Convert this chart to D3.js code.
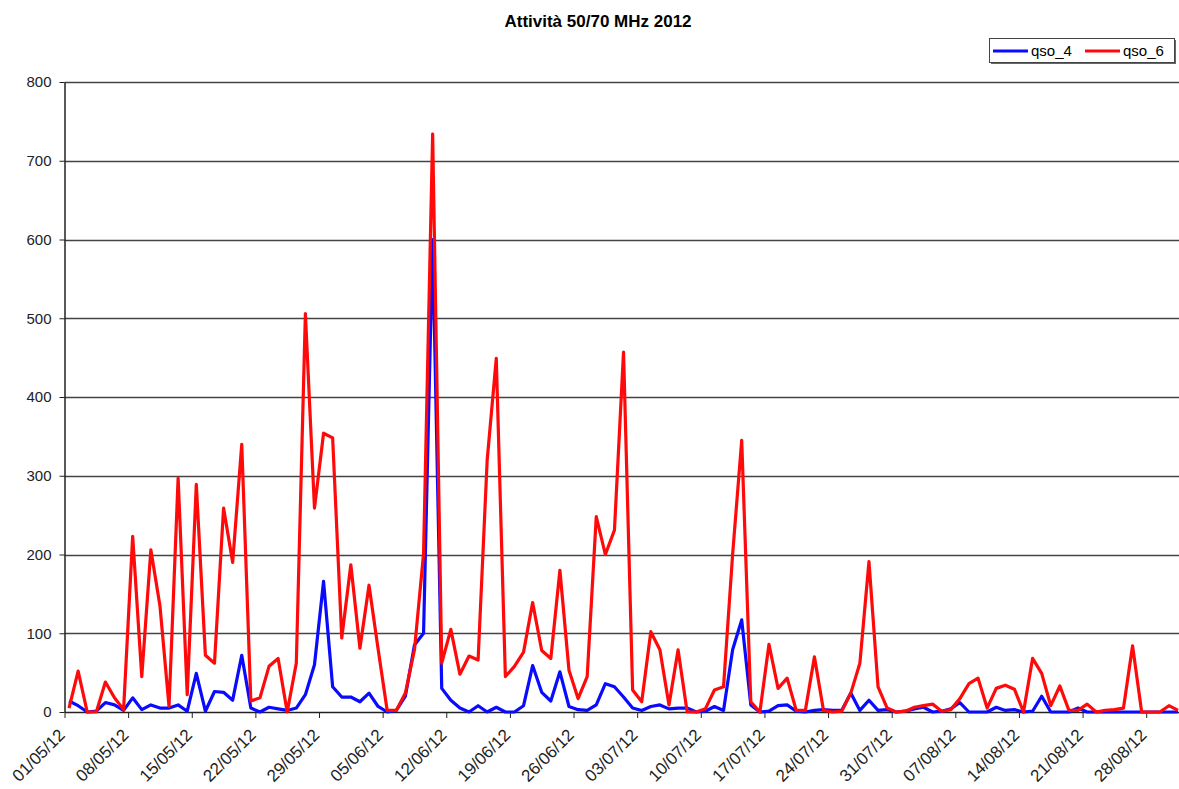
<!DOCTYPE html>
<meta charset="utf-8">
<style>
body { margin: 0; background: #fff; }
text { font-family: "Liberation Sans", Arial, sans-serif; }
</style>
<svg width="1179" height="789"></svg>
<script src="https://cdnjs.cloudflare.com/ajax/libs/d3/7.8.5/d3.min.js"></script>
<script>

var title = "Attività 50/70 MHz 2012";
var firstDay = new Date(2012, 4, 1);
var lastDay = new Date(2012, 8, 1);
var seriesNames = ["qso_4", "qso_6"];
var seriesColors = ["#0a0aff", "#ff0a0a"];
var yTicks = [0, 100, 200, 300, 400, 500, 600, 700, 800];

// one value per day, 01/05/12 .. 31/08/12
var qso4 = [14, 8, 0, 1, 12, 9, 2, 18, 3, 9, 5, 5, 9, 1, 49, 1, 26, 25, 15, 72,
  5, 0, 6, 4, 2, 5, 22, 60, 166, 32, 19, 19, 13, 24, 7, 0, 2, 20, 85, 100,
  600, 30, 15, 5, 0, 8, 0, 6, 0, 0, 8, 59, 25, 14, 51, 7, 3, 2, 9, 36,
  32, 19, 5, 2, 7, 9, 4, 5, 5, 0, 1, 7, 2, 79, 117, 9, 0, 1, 8, 9,
  1, 0, 2, 3, 2, 2, 24, 2, 15, 2, 3, 0, 1, 4, 6, 0, 1, 4, 12, 0,
  0, 0, 6, 2, 3, 0, 1, 20, 0, 0, 0, 5, 0, 0, 0, 0, 0, 0, 0, 0,
  0, 0, 0];
var qso6 = [5, 52, 0, 0, 38, 18, 3, 223, 45, 206, 135, 7, 297, 22, 289, 72, 62, 259, 190, 340,
  14, 18, 58, 68, 0, 62, 506, 259, 354, 348, 94, 187, 81, 161, 80, 2, 2, 24, 79, 201,
  734, 62, 105, 48, 71, 66, 320, 449, 45, 58, 76, 139, 78, 68, 180, 53, 17, 45, 248, 200,
  231, 457, 28, 13, 102, 79, 9, 79, 0, 0, 4, 28, 32, 200, 345, 13, 0, 86, 30, 43,
  2, 2, 70, 2, 0, 1, 24, 62, 191, 32, 5, 0, 1, 6, 8, 10, 1, 3, 17, 36,
  43, 5, 30, 34, 29, 0, 68, 49, 8, 33, 2, 2, 10, 0, 2, 3, 5, 84, 0, 0,
  0, 8, 2];

var days = d3.timeDay.range(firstDay, lastDay);
var series = [qso4, qso6].map(function(values, i) {
  return {
    name: seriesNames[i],
    color: seriesColors[i],
    points: values.map(function(v, j) { return {date: d3.timeHour.offset(days[j], 12), value: v}; })
  };
});

var svg = d3.select("svg");
var plotLeft = 64.5, plotBottom = 712, plotTop = 82;
var dayWidth = 9.09;

var x = d3.scaleTime()
    .domain([firstDay, lastDay])
    .range([plotLeft, plotLeft + days.length * dayWidth]);

var y = d3.scaleLinear()
    .domain([0, 800])
    .range([plotBottom, plotTop]);

// grid
svg.append("g")
  .selectAll("line")
  .data(yTicks.slice(1))
  .enter().append("line")
    .attr("x1", plotLeft)
    .attr("x2", 1179)
    .attr("y1", function(d) { return Math.round(y(d)) + 0.5; })
    .attr("y2", function(d) { return Math.round(y(d)) + 0.5; })
    .attr("stroke", "#444")
    .attr("stroke-width", 1.3);

// y axis
var yAxis = svg.append("g")
    .attr("transform", "translate(" + plotLeft + ",0)")
    .call(d3.axisLeft(y).tickValues(yTicks).tickSize(5).tickPadding(8).tickSizeOuter(0));
yAxis.select(".domain").attr("stroke", "#222").attr("stroke-width", 1.5);
yAxis.selectAll("line").attr("stroke", "#222");
yAxis.selectAll("text").attr("font-size", 15).attr("fill", "#222")
    .style("font-family", "'Liberation Sans', Arial, sans-serif");

// x axis
var xAxis = svg.append("g")
    .attr("transform", "translate(0," + plotBottom + ")")
    .call(d3.axisBottom(x)
      .tickValues(d3.timeDay.range(firstDay, lastDay, 7))
      .tickFormat(d3.timeFormat("%d/%m/%y"))
      .tickSize(6)
      .tickSizeOuter(0));
xAxis.select(".domain").attr("stroke", "#222").attr("stroke-width", 1.5);
xAxis.selectAll("line").attr("stroke", "#222");
xAxis.selectAll("text")
    .attr("font-size", 17)
    .attr("fill", "#222")
    .style("font-family", "'Liberation Sans', Arial, sans-serif")
    .attr("text-anchor", "end")
    .attr("dy", null)
    .attr("y", 0)
    .attr("transform", "translate(1,24) rotate(-45)");

// lines
var line = d3.line()
    .x(function(d) { return x(d.date); })
    .y(function(d) { return y(d.value); });

svg.append("g")
  .selectAll("path")
  .data(series)
  .enter().append("path")
    .attr("fill", "none")
    .attr("stroke", function(d) { return d.color; })
    .attr("stroke-width", 3.2)
    .attr("stroke-linejoin", "round")
    .attr("d", function(d) { return line(d.points); });

// title
svg.append("text")
    .attr("x", 598)
    .attr("y", 27)
    .attr("text-anchor", "middle")
    .attr("font-size", 17)
    .attr("font-weight", "bold")
    .text(title);

// legend
var legend = svg.append("g").attr("transform", "translate(989,38)");
legend.append("rect")
    .attr("x", 2).attr("y", 2).attr("width", 185).attr("height", 24)
    .attr("fill", "#666");
legend.append("rect")
    .attr("x", 0.5).attr("y", 0.5).attr("width", 185).attr("height", 24)
    .attr("fill", "#fff").attr("stroke", "#444");
var item = legend.selectAll(".item")
  .data(series)
  .enter().append("g")
    .attr("transform", function(d, i) { return "translate(" + (4 + i * 92) + ",13)"; });
item.append("line")
    .attr("x1", 0).attr("x2", 35)
    .attr("stroke", function(d) { return d.color; })
    .attr("stroke-width", 3);
item.append("text")
    .attr("x", 38)
    .attr("dy", "0.35em")
    .attr("font-size", 15)
    .text(function(d) { return d.name; });

</script>
